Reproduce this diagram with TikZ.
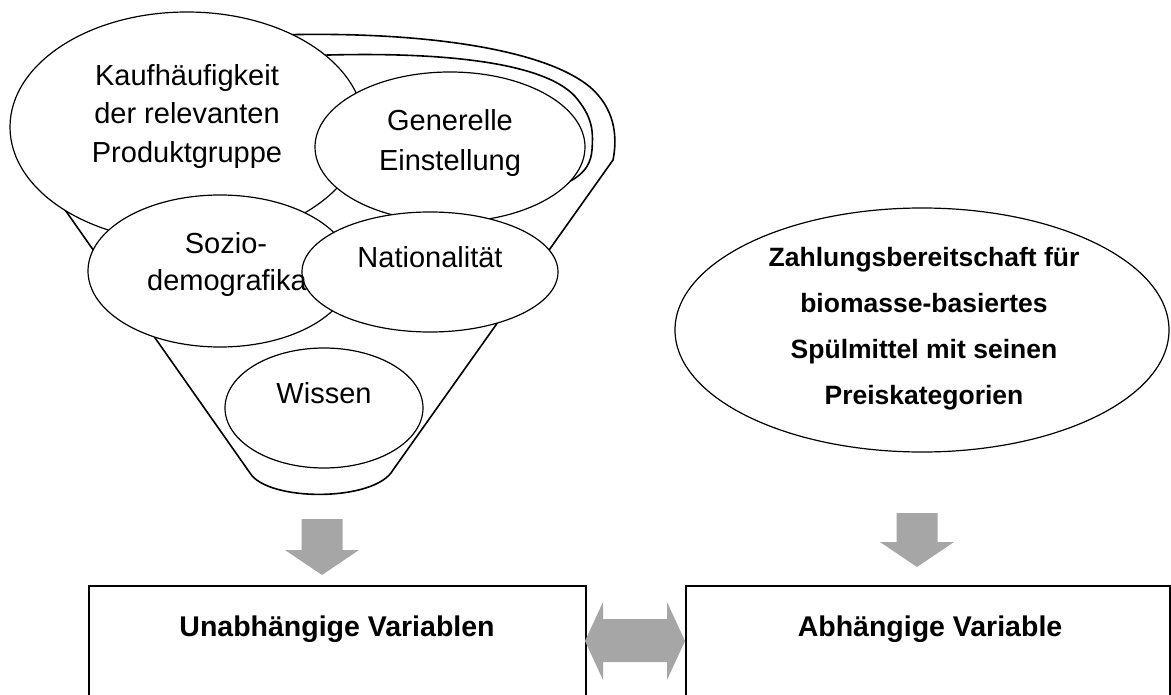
\documentclass[tikz,border=0pt]{standalone}
\usepackage{fontspec}
\setmainfont{Liberation Sans}
\usetikzlibrary{shapes.geometric}
\definecolor{arrowgray}{RGB}{166,166,166}
\begin{document}
\begin{tikzpicture}[x=1pt,y=-1pt,
  oval/.style={ellipse, draw, fill=white, line width=1.2pt, inner sep=0pt},
  lbl/.style={anchor=base, inner sep=0pt, font=\fontsize{29}{38}\selectfont},
  blbl/.style={anchor=base, inner sep=0pt, font=\fontsize{26.5}{46}\selectfont\bfseries},
  boxlbl/.style={anchor=base, inner sep=0pt, font=\fontsize{28.5}{34}\selectfont\bfseries},
  funnel/.style={line width=1.6pt},
  varbox/.style={draw, line width=2pt, inner sep=0pt, anchor=north west},
  blockarrow/.style={fill=arrowgray, draw=none}]
\clip (0,0) rectangle (1171,695);
\fill[white] (0,0) rectangle (1171,695);
% funnel outline
\draw[funnel] (250,36) .. controls (420,28) and (560,50) .. (598,95)
  .. controls (618,118) and (616,145) .. (613,160) -- (393,470)
  .. controls (375,502) and (268,502) .. (250,473) -- (30,160) -- cycle;
\draw[funnel] (300,56) .. controls (440,50) and (550,62) .. (578,100)
  .. controls (594,120) and (593,135) .. (592,150)
  .. controls (590,175) and (570,185) .. (530,195);
% ellipses
\node[oval, minimum width=354pt, minimum height=230pt] (kauf) at (187,127) {};
\node[oval, minimum width=270pt, minimum height=150pt] (gen) at (450,147) {};
\node[oval, minimum width=264pt, minimum height=152pt] (sozio) at (220,271) {};
\node[oval, minimum width=256pt, minimum height=120pt] (nat) at (430,272) {};
\node[oval, minimum width=198pt, minimum height=120pt] (wissen) at (324,408) {};
\node[oval, minimum width=494pt, minimum height=244pt] (zahl) at (922,330) {};
% labels
\node[lbl] (k1) at (187,85.4) {Kaufhäufigkeit};
\node[lbl] (k2) at (187,123.4) {der relevanten};
\node[lbl] (k3) at (187,162.4) {Produktgruppe};
\node[lbl] (g1) at (450,130.4) {Generelle};
\node[lbl] (g2) at (450,170.4) {Einstellung};
\node[lbl] (s1) at (226,253.4) {Sozio-};
\node[lbl] (s2) at (227,290.4) {demografika};
\node[lbl] (n1) at (430,267.4) {Nationalität};
\node[lbl] (w1) at (324,403.4) {Wissen};
\node[blbl] (z1) at (924,266.5) {Zahlungsbereitschaft für};
\node[blbl] (z2) at (924,312.5) {biomasse-basiertes};
\node[blbl] (z3) at (924,358.5) {Spülmittel mit seinen};
\node[blbl] (z4) at (924,404.5) {Preiskategorien};
% boxes
\node[varbox, minimum width=497pt, minimum height=140pt] (unab) at (88,585) {};
\node[varbox, minimum width=484pt, minimum height=140pt] (abh) at (685,585) {};
\node[boxlbl] (u1) at (337,636) {Unabhängige Variablen};
\node[boxlbl] (a1) at (930,636) {Abhängige Variable};
% block arrows
\coordinate (la) at (322,519);
\coordinate (ra) at (917,513);
\coordinate (da) at (635,641);
\fill[blockarrow, shift={(la)}] (-20.5,0) -- (20.5,0) -- (20.5,31) -- (37,31) -- (0,56) -- (-37,31) -- (-20.5,31) -- cycle;
\fill[blockarrow, shift={(ra)}] (-20.5,0) -- (20.5,0) -- (20.5,29) -- (37,29) -- (0,54) -- (-37,29) -- (-20.5,29) -- cycle;
\fill[blockarrow, shift={(da)}] (-50,0) -- (-32,-39) -- (-32,-22) -- (32,-22) -- (32,-39) -- (50,0) -- (32,39) -- (32,21) -- (-32,21) -- (-32,39) -- cycle;
\end{tikzpicture}
\end{document}
